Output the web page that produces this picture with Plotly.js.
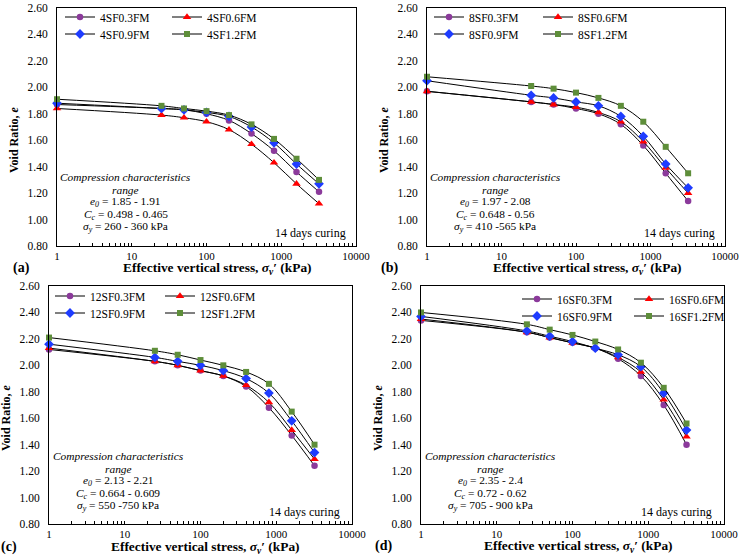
<!DOCTYPE html>
<html>
<head>
<meta charset="utf-8">
<script src="https://cdn.plot.ly/plotly-3.0.1.min.js"></script>
<style>html,body{margin:0;padding:0;background:#fff;}#chart{width:744px;height:560px;}</style>
</head>
<body>
<div id="chart"></div>
<script>
// ---------- DATA ----------
const stress = [1, 25, 50, 100, 200, 400, 800, 1600, 3200];
const fmLevels = ['0.3FM', '0.6FM', '0.9FM', '1.2FM'];
const sfLevels = ['4SF', '8SF', '12SF', '16SF'];

// Panel (a) 4SF
const e_4SF03 = [1.87, 1.84, 1.83, 1.80, 1.75, 1.65, 1.52, 1.36, 1.21];
const e_4SF06 = [1.84, 1.79, 1.77, 1.74, 1.68, 1.57, 1.43, 1.27, 1.12];
const e_4SF09 = [1.88, 1.84, 1.83, 1.81, 1.78, 1.70, 1.58, 1.42, 1.27];
const e_4SF12 = [1.91, 1.86, 1.84, 1.82, 1.79, 1.72, 1.61, 1.46, 1.30];
// Panel (b) 8SF
const e_8SF03 = [1.97, 1.89, 1.87, 1.84, 1.80, 1.72, 1.56, 1.35, 1.14];
const e_8SF06 = [1.97, 1.89, 1.87, 1.85, 1.81, 1.74, 1.59, 1.39, 1.20];
const e_8SF09 = [2.05, 1.94, 1.92, 1.89, 1.86, 1.78, 1.63, 1.42, 1.24];
const e_8SF12 = [2.08, 2.01, 1.99, 1.96, 1.92, 1.86, 1.74, 1.55, 1.35];
// Panel (c) 12SF
const e_12SF03 = [2.12, 2.03, 2.00, 1.96, 1.92, 1.84, 1.68, 1.47, 1.24];
const e_12SF06 = [2.13, 2.03, 2.00, 1.96, 1.92, 1.85, 1.72, 1.51, 1.29];
const e_12SF09 = [2.16, 2.06, 2.03, 2.00, 1.96, 1.90, 1.79, 1.58, 1.34];
const e_12SF12 = [2.21, 2.11, 2.08, 2.04, 2.00, 1.95, 1.86, 1.65, 1.40];
// Panel (d) 16SF
const e_16SF03 = [2.34, 2.25, 2.21, 2.17, 2.13, 2.05, 1.92, 1.70, 1.40];
const e_16SF06 = [2.35, 2.25, 2.21, 2.17, 2.13, 2.06, 1.95, 1.74, 1.46];
const e_16SF09 = [2.37, 2.26, 2.22, 2.18, 2.13, 2.08, 1.99, 1.79, 1.51];
const e_16SF12 = [2.40, 2.31, 2.27, 2.23, 2.18, 2.12, 2.02, 1.83, 1.56];

const panelSeries = [
  [e_4SF03, e_4SF06, e_4SF09, e_4SF12],
  [e_8SF03, e_8SF06, e_8SF09, e_8SF12],
  [e_12SF03, e_12SF06, e_12SF09, e_12SF12],
  [e_16SF03, e_16SF06, e_16SF09, e_16SF12]
];
const panelLetters = ['(a)', '(b)', '(c)', '(d)'];
const e0Range = ['1.85 - 1.91', '1.97 - 2.08', '2.13 - 2.21', '2.35 - 2.4'];
const ccRange = ['0.498 - 0.465', '0.648 - 0.56', '0.664 - 0.609', '0.72 - 0.62'];
const syRange = ['260 - 360 kPa', '410 -565 kPa', '550 -750 kPa', '705 - 900 kPa'];
const curingNote = '14 days curing';
const xTickLabels = ['1', '10', '100', '1000', '10000'];
const yTickLabels = ['0.80', '1.00', '1.20', '1.40', '1.60', '1.80', '2.00', '2.20', '2.40', '2.60'];

// ---------- STYLE / LAYOUT ----------
const W = 744, H = 560;
const px = v => v / W;
const py = v => 1 - v / H;
const FONT = '"Liberation Serif", "Times New Roman", serif';
const colors = ['#8B3A9B', '#FF0000', '#1E3CFF', '#5E8E3A'];
const symbols = ['circle', 'triangle-up', 'diamond', 'square'];
const msizes = [6.5, 7.5, 7.5, 6];

// plot-area boxes in pixels [left, right, top, bottom]
const boxes = [
  [57, 356, 8, 246],
  [427, 725, 8, 246],
  [49, 352, 286, 524],
  [421, 724, 286, 524]
];
// legend placement: [col1 marker x, col2 marker x, row1 y, row2 y]
const legPos = [
  [79, 176, 17, 34],
  [448, 547, 17, 34],
  [69, 169, 296, 313],
  [536, 638, 299, 316]
];
const textCenterX = [126, 495, 118, 490];
const textTopY = [177, 177, 456, 456];
const curingPos = [[348, 233], [717, 233], [342, 512], [714, 512]];
const xTitlePos = [[217, 268], [587, 268], [206, 547], [578, 546]];
const letterPos = [[21, 268], [389, 268], [9, 547], [383, 546]];
const yTitlePos = [[14, 140], [384, 140], [6, 418], [378, 418]];

const traces = [];
const layout = {
  width: W, height: H,
  margin: {l: 0, r: 0, t: 0, b: 0},
  paper_bgcolor: '#fff', plot_bgcolor: '#fff',
  font: {family: FONT, size: 11, color: '#000'},
  showlegend: true,
  annotations: []
};

// log ticks: decades labelled, 2..9 as minor ticks
const xMajor = xTickLabels.map(Number);
const xMinor = [];
for (let d = 0; d < 4; d++) {
  for (let m = 2; m < 10; m++) xMinor.push(m * Math.pow(10, d));
}
const yTickVals = yTickLabels.map(Number);

for (let p = 0; p < 4; p++) {
  const sfx = p === 0 ? '' : String(p + 1);
  const b = boxes[p];
  layout['xaxis' + sfx] = {
    type: 'log', range: [0, 4],
    domain: [px(b[0]), px(b[1])],
    anchor: 'y' + sfx,
    tickmode: 'array', tickvals: xMajor, ticktext: xTickLabels,
    ticks: 'inside', ticklen: 3, tickcolor: '#000', tickwidth: 1,
    minor: {tickmode: 'array', tickvals: xMinor, ticks: 'inside', ticklen: 3, tickcolor: '#000', tickwidth: 1, showgrid: false},
    showline: true, linecolor: '#000', linewidth: 1, mirror: true,
    showgrid: false, zeroline: false,
    tickfont: {family: FONT, size: 11, color: '#000'},
    fixedrange: true
  };
  layout['yaxis' + sfx] = {
    range: [0.8, 2.6],
    domain: [py(b[3]), py(b[2])],
    anchor: 'x' + sfx,
    tickmode: 'array', tickvals: yTickVals, ticktext: yTickLabels,
    ticks: '', ticklabelstandoff: 6,
    showline: true, linecolor: '#000', linewidth: 1, mirror: true,
    showgrid: false, zeroline: false,
    tickfont: {family: FONT, size: 11.5, color: '#000'},
    fixedrange: true
  };
  const lg = legPos[p];
  const legA = 'legend' + (p === 0 ? '' : String(2 * p + 1));
  const legB = 'legend' + String(2 * p + 2);
  [[legA, lg[2]], [legB, lg[3]]].forEach(([name, yy]) => {
    layout[name] = {
      orientation: 'h',
      x: px(lg[0] - 19), xanchor: 'left',
      y: py(yy), yanchor: 'middle',
      bgcolor: 'rgba(0,0,0,0)', borderwidth: 0,
      entrywidth: lg[1] - lg[0] - 35, entrywidthmode: 'pixels',
      font: {family: FONT, size: 11.5, color: '#000'},
      itemclick: false, itemdoubleclick: false,
      tracegroupgap: 0
    };
  });
  for (let s = 0; s < 4; s++) {
    traces.push({
      type: 'scatter', mode: 'lines+markers',
      x: stress, y: panelSeries[p][s],
      name: sfLevels[p] + fmLevels[s],
      xaxis: 'x' + sfx, yaxis: 'y' + sfx,
      legend: s < 2 ? legA : legB,
      line: {color: '#000', width: 1, shape: 'spline', smoothing: 1},
      marker: {color: colors[s], symbol: symbols[s], size: msizes[s], line: {width: 0}},
      cliponaxis: false
    });
  }
  // text block
  const lines = [
    '<i>Compression characteristics</i>',
    '<i>range</i>',
    '<i>e</i><sub><i>0</i></sub> = ' + e0Range[p],
    '<i>C</i><sub><i>c</i></sub> = ' + ccRange[p],
    '<i>σ</i><sub><i>y</i></sub> = ' + syRange[p]
  ];
  lines.forEach((t, i) => {
    layout.annotations.push({
      xref: 'paper', yref: 'paper', x: px(textCenterX[p]), y: py(textTopY[p] + i * 12.5),
      xanchor: 'center', yanchor: 'middle', showarrow: false, text: t,
      font: {family: FONT, size: 11.4, color: '#000'}
    });
  });
  layout.annotations.push({
    xref: 'paper', yref: 'paper', x: px(curingPos[p][0]), y: py(curingPos[p][1]),
    xanchor: 'right', yanchor: 'middle', showarrow: false, text: curingNote,
    font: {family: FONT, size: 12, color: '#000'}
  });
  layout.annotations.push({
    xref: 'paper', yref: 'paper', x: px(xTitlePos[p][0]), y: py(xTitlePos[p][1]),
    xanchor: 'center', yanchor: 'middle', showarrow: false,
    text: '<b>Effective vertical stress, <i>σ</i><sub><i>v</i></sub>′ (kPa)</b>',
    font: {family: FONT, size: 13.4, color: '#000'}
  });
  layout.annotations.push({
    xref: 'paper', yref: 'paper', x: px(letterPos[p][0]), y: py(letterPos[p][1]),
    xanchor: 'center', yanchor: 'middle', showarrow: false,
    text: '<b>' + panelLetters[p] + '</b>',
    font: {family: FONT, size: 14, color: '#000'}
  });
  layout.annotations.push({
    xref: 'paper', yref: 'paper', x: px(yTitlePos[p][0]), y: py(yTitlePos[p][1]),
    xanchor: 'center', yanchor: 'middle', showarrow: false, textangle: -90,
    text: '<b>Void Ratio, <i>e</i></b>',
    font: {family: FONT, size: 12, color: '#000'}
  });
}

Plotly.newPlot('chart', traces, layout, {displayModeBar: false, staticPlot: true});
</script>
</body>
</html>
